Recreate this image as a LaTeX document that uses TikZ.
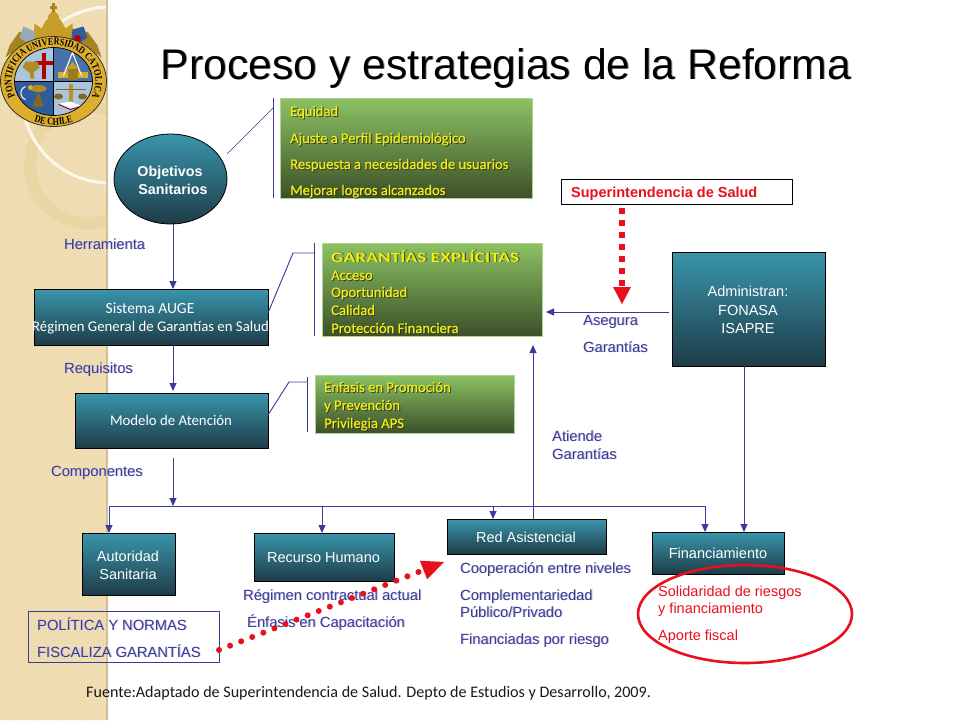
\documentclass[tikz,border=0pt]{standalone}
\usepackage{fontspec}
\setmainfont{Liberation Sans}
\newfontfamily\hum{Carlito}
\newfontfamily\humy[FakeBold=0.6]{Carlito}
\newfontfamily\humw[FakeStretch=1.33]{Carlito}
\newfontfamily\crestf[FakeStretch=.8]{Liberation Serif}
\usetikzlibrary{arrows.meta,patterns,decorations.text,shapes.geometric}
\definecolor{navy}{HTML}{3A3A98}
\definecolor{navysh}{HTML}{C4C4DC}
\definecolor{yel}{HTML}{F0F010}
\definecolor{tealtop}{HTML}{3A95AC}
\definecolor{tealbot}{HTML}{1E3C48}
\definecolor{grtop}{HTML}{8CC264}
\definecolor{grbot}{HTML}{3C5028}
\definecolor{tan}{HTML}{F1DFB6}
\definecolor{tandot}{HTML}{E6CF9C}
\definecolor{gold}{HTML}{DDAE2C}
\definecolor{rd}{HTML}{E8101C}
\definecolor{lblue}{HTML}{A9C6DE}
\definecolor{dblue}{HTML}{2F5C9C}
\newcommand\shtxt[2]{\leavevmode\rlap{\kern.9pt\raisebox{-.9pt}{\textcolor{#1}{#2}}}#2}
\newcommand\bl[1]{\shtxt{navysh}{#1}}
\newcommand\yl[1]{\shtxt{black!80}{#1}}
\newcommand\fs[1]{\fontsize{#1}{#1}\selectfont}
\tikzset{
  tbox/.style={draw=black,line width=.8pt,top color=tealtop,bottom color=tealbot,inner sep=0pt,outer sep=0pt},
  gbox/.style={draw=grtop!70!white,line width=.4pt,top color=grtop,bottom color=grbot,inner sep=0pt,outer sep=0pt},
  lab/.style={anchor=base west,inner sep=0pt,text=navy,font=\fs{14.7}},
  red lab/.style={anchor=base west,inner sep=0pt,text=rd,font=\fs{14.5}},
  ylab/.style={anchor=base west,inner sep=0pt,text=yel,font=\humy\fs{14.6}},
  wlab/.style={anchor=base,inner sep=0pt,text=white,font=\fs{14.5}},
  whum/.style={anchor=base,inner sep=0pt,text=white,font=\hum\fs{14.8}},
  arr/.style={draw=navy,line width=.9pt,-{Triangle[length=8pt,width=7pt,fill=navy]}},
  ln/.style={draw=navy,line width=.9pt},
  thin ln/.style={draw=navy,line width=.6pt},
}
\begin{document}
\begin{tikzpicture}[x=1pt,y=-1pt]
\useasboundingbox (0,0) rectangle (960,720);
\fill[white] (0,0) rectangle (960,720);
% left strip
\begin{scope}
\clip (0,0) rectangle (106,720);
\fill[tan] (0,0) rectangle (106,720);
\fill[pattern=crosshatch dots,pattern color=tandot] (0,0) rectangle (106,720);
\draw[tandot!65!tan,line width=12pt] (88,165) circle[radius=58pt];
\draw[white!75!tan,line width=3pt] (110,95) circle[radius=88pt];
\end{scope}
\fill[tandot!80!gray] (106,0) rectangle (107.5,720);
% crest
\begin{scope}[x=1pt,y=1pt,shift={(53.5pt,-81.5pt)}]
 % crown and mantling
 \fill[gold!75!black] (-48,24) -- (-44,36) -- (-34,50) -- (-24,44) -- (24,44) -- (34,50) -- (44,36) -- (48,24) -- (30,38) -- (-30,38) -- cycle;
 \fill[gold!90!black] (-20,40) -- (-19,58) -- (-12,53) -- (-7,62) -- (0,58) -- (7,62) -- (12,53) -- (19,58) -- (20,40) -- cycle;
 \fill[gold!70!black] (-19,44) rectangle (19,40);
 \fill[gold!90!black] (-7,58) -- (-5,66) -- (0,72) -- (5,66) -- (7,58) -- cycle;
 \fill[gold!75!black] (-1.5,70) rectangle (1.5,78.5);
 \fill[gold!75!black] (-3.5,73) rectangle (3.5,75.5);
 \fill[lblue!60!gray] (-34,44) -- (-30,55) -- (-19,50) -- (-19,43) -- (-24,37) -- cycle;
 \fill[dblue] (34,44) -- (30,55) -- (19,52) -- (18,43) -- (24,37) -- cycle;
 \fill[red!75!black] (24,43) circle[radius=3.5pt];
 % ring
 \filldraw[fill=gold,draw=black!80,line width=.8pt] (0,0) ellipse[x radius=53pt,y radius=45pt];
 \path[decorate,decoration={text along path,text align=center,text color=black,
   text format delimiters={|}{|},text={|\crestf\bfseries\fs{10.2}|PONTIFICIA UNIVERSIDAD CATOLICA}}]
   (218:42pt and 36.5pt) arc[start angle=218,end angle=-38,x radius=42pt,y radius=36.5pt];
 \path[decorate,decoration={text along path,text align=center,text color=black,
   text format delimiters={|}{|},text={|\crestf\bfseries\fs{10.2}|DE CHILE}}]
   (225:50pt and 43.5pt) arc[start angle=225,end angle=315,x radius=50pt,y radius=43.5pt];
 % shield
 \begin{scope}
  \clip (0,0) ellipse[x radius=39pt,y radius=34pt];
  \fill[lblue] (-40,0) rectangle (0,36);
  \fill[dblue!80!lblue] (0,0) rectangle (40,36);
  \fill[dblue] (-40,-36) rectangle (0,0);
  \fill[lblue] (0,-36) rectangle (40,0);
  % cross and cup
  \fill[red!70!black] (-12,3) rectangle (-8,29);
  \fill[red!70!black] (-19,17) rectangle (-1,21);
  \fill[gold!80!black] (-23,3) -- (-19,3) -- (-20,9) -- (-14,14) -- (-16,20) -- (-28,20) -- (-31,14) -- (-24,9) -- cycle;
  % temple
  \fill[gold] (4,4) rectangle (34,10);
  \fill[gold!90!black] (10,8) -- (19,20) -- (28,8) -- cycle;
  \draw[white,line width=1.1pt] (10,6) -- (19,29) -- (28,6);
  \fill[gold!70!black] (14,2) rectangle (24,13);
  % left lower
  \fill[gold!80!black] (-15,-7) ellipse[x radius=8pt,y radius=3.5pt];
  \fill[gold!60!black] (-15,-10) -- (-21,-25) -- (-10,-25) -- cycle;
  \draw[white!80!gray,line width=1.2pt] (-28,-5) arc[start angle=110,end angle=250,radius=7pt];
  \fill[gold] (-23,-6) circle[radius=2.5pt];
  % scales
  \fill[gold!85!black] (15,-2) rectangle (19,-22);
  \draw[gold!60!black,line width=.9pt] (2,-8) -- (32,-8);
  \fill[gold!60!black] (5,-15) ellipse[x radius=4.5pt,y radius=3pt];
  \fill[gold!60!black] (29,-15) ellipse[x radius=4.5pt,y radius=3pt];
  \fill[white] (6,-22) -- (17,-20) -- (27,-24) -- (17,-27) -- cycle;
  \draw[red!70!black,line width=.9pt] (5,-23) -- (17,-28) -- (28,-25);
 \end{scope}
 \draw[black,line width=.7pt] (0,0) ellipse[x radius=39pt,y radius=34pt];
 \draw[black,line width=.9pt] (-39,0) -- (39,0) (0,-34) -- (0,34);
\end{scope}
% title
\node[anchor=base,inner sep=0pt,font=\fs{42.7}] (title) at (506,79) {\shtxt{black!35}{Proceso y estrategias de la Reforma}};
% main nodes
\node[ellipse,tbox,minimum width=113pt,minimum height=90pt] (obj) at (170.5,179) {};
\node[wlab,font=\bfseries\fs{14.3}] (objA) at (170,176) {Objetivos};
\node[wlab,font=\bfseries\fs{14.3}] (objB) at (173,194) {Sanitarios};
\node[tbox,minimum width=234pt,minimum height=56pt] (auge) at (151,317) {};
\node[whum,font=\hum\fs{15.5}] (augeA) at (150,313) {Sistema AUGE};
\node[whum] (augeB) at (150.5,331) {Régimen General de Garantías en Salud};
\node[tbox,minimum width=193pt,minimum height=55pt] (modelo) at (171.5,420.5) {};
\node[whum] (modeloT) at (171,425) {Modelo de Atención};
\node[tbox,minimum width=93pt,minimum height=62pt] (aut) at (128.5,564) {};
\node[wlab] (autA) at (128,561) {Autoridad};
\node[wlab] (autB) at (128,579) {Sanitaria};
\node[tbox,minimum width=140pt,minimum height=48pt] (rec) at (324,557) {};
\node[wlab] (recT) at (323.5,562) {Recurso Humano};
\node[tbox,minimum width=159pt,minimum height=35pt] (redn) at (526.5,536.5) {};
\node[wlab] (redT) at (526,542) {Red Asistencial};
\node[tbox,minimum width=132pt,minimum height=42pt] (fin) at (718,553) {};
\node[wlab] (finT) at (718,558) {Financiamiento};
\node[tbox,minimum width=153pt,minimum height=114pt] (adm) at (748.5,309) {};
\node[wlab] (admA) at (748,296) {Administran:};
\node[wlab] (admB) at (748,315) {FONASA};
\node[wlab] (admC) at (748,333) {ISAPRE};
% green boxes
\node[gbox,minimum width=252pt,minimum height=100pt] (g1) at (406,148) {};
\node[gbox,minimum width=220pt,minimum height=93pt] (g2) at (432,289.5) {};
\node[gbox,minimum width=199pt,minimum height=58pt] (g3) at (414.5,404) {};
\node[ylab] (g1a) at (290,116) {\yl{Equidad}};
\node[ylab] (g1b) at (290,143) {\yl{Ajuste a Perfil Epidemiológico}};
\node[ylab] (g1c) at (290,169) {\yl{Respuesta a necesidades de usuarios}};
\node[ylab] (g1d) at (290,195) {\yl{Mejorar logros alcanzados}};
\node[ylab,font=\humw\bfseries\fs{14.6}] (g2a) at (331,262) {\yl{GARANTÍAS EXPLÍCITAS}};
\node[ylab] (g2b) at (331,280) {\yl{Acceso}};
\node[ylab] (g2c) at (331,297) {\yl{Oportunidad}};
\node[ylab] (g2d) at (331,315) {\yl{Calidad}};
\node[ylab] (g2e) at (331,333) {\yl{Protección Financiera}};
\node[ylab] (g3a) at (324,392) {\yl{Enfasis en Promoción}};
\node[ylab] (g3b) at (324,410) {\yl{y Prevención}};
\node[ylab] (g3c) at (324,428) {\yl{Privilegia APS}};
% superintendencia
\node[draw=black,line width=.7pt,fill=white,minimum width=231pt,minimum height=25pt,inner sep=0pt,outer sep=0pt] (sup) at (676.5,191.5) {};
\node[anchor=base west,inner sep=0pt,text=rd,font=\bfseries\fs{14.5}] (supT) at (571,197) {Superintendencia de Salud};
% politica
\node[draw=navy,line width=.8pt,minimum width=191pt,minimum height=51pt,inner sep=0pt,outer sep=0pt] (pol) at (123.5,636.5) {};
\node[lab] (polA) at (37,630) {\bl{POLÍTICA Y NORMAS}};
\node[lab] (polB) at (37,657) {\bl{FISCALIZA GARANTÍAS}};
% labels
\node[lab] (lh) at (64,249) {\bl{Herramienta}};
\node[lab] (lr) at (64,373) {\bl{Requisitos}};
\node[lab] (lc) at (51,476) {\bl{Componentes}};
\node[lab] (la1) at (583,325) {\bl{Asegura}};
\node[lab] (la2) at (583,352) {\bl{Garantías}};
\node[lab] (lt1) at (552,441) {\bl{Atiende}};
\node[lab] (lt2) at (552,459) {\bl{Garantías}};
\node[lab] (r1) at (243,600) {\bl{Régimen contractual actual}};
\node[lab] (r2) at (247,627) {\bl{Énfasis en Capacitación}};
\node[lab] (a1) at (460,573) {\bl{Cooperación entre niveles}};
\node[lab] (a2) at (460,600) {\bl{Complementariedad}};
\node[lab] (a3) at (460,617) {\bl{Público/Privado}};
\node[lab] (a4) at (460,644) {\bl{Financiadas por riesgo}};
\node[red lab] (f1) at (658,596) {Solidaridad de riesgos};
\node[red lab] (f2) at (658,613) {y financiamiento};
\node[red lab] (f3) at (658,640) {Aporte fiscal};
\node[anchor=base west,inner sep=0pt,font=\hum\fs{16.1},text=black!90] (src) at (86,697) {Fuente:Adaptado de Superintendencia de Salud. Depto de Estudios y Desarrollo, 2009.};
% brackets
\coordinate (b1t) at (273,98); \coordinate (b1b) at (273,198); \coordinate (b1m) at (273,108);
\draw[thin ln] (227,154) -- (b1m);
\draw[ln] (b1t) -- (b1b);
\coordinate (b2t) at (314,243); \coordinate (b2b) at (314,336); \coordinate (b2m) at (314,253); \coordinate (b2k) at (293,253);
\draw[ln] (b2t) -- (b2b);
\draw[ln] (b2m) -- (b2k) -- (auge.east |- 0,313);
\coordinate (b3t) at (307,377); \coordinate (b3b) at (307,432); \coordinate (b3m) at (307,382); \coordinate (b3k) at (289,382);
\draw[ln] (b3t) -- (b3b);
\draw[ln] (b3m) -- (b3k) -- (modelo.east |- 0,415);
% connectors
\draw[arr] (obj.south -| 173,0) -- (auge.north -| 173,0);
\coordinate (mt) at (173,391);
\draw[arr] (auge.south -| 173,0) -- (mt);
\coordinate (ms) at (173,458); \coordinate (me) at (173,506);
\draw[arr] (ms) -- (me);
\coordinate (busL) at (109,506); \coordinate (busR) at (705,506);
\coordinate (busA) at (322,506); \coordinate (busB) at (493,506);
\draw[ln] (busL) -- (busR);
\draw[arr] (busL) -- (busL |- aut.north);
\draw[arr] (busA) -- (busA |- rec.north);
\draw[arr] (busB) -- (busB |- redn.north);
\draw[arr] (busR) -- (busR |- fin.north);
\coordinate (up) at (533,345);
\draw[arr] (up |- redn.north) -- (up);
\draw[arr] (adm.south -| 744,0) -- (fin.north -| 744,0);
\coordinate (asg) at (546,312);
\draw[arr] (669,312) -- (asg);
% red connectors
\coordinate (supe) at (622,304);
\draw[draw=rd,line width=6pt,dash pattern=on 6pt off 6pt,-{Triangle[length=17pt,width=18pt,fill=rd,line width=0pt]}] (622,208) -- (supe);
\coordinate (pols) at (219,650); \coordinate (pole) at (444,562);
\draw[draw=rd,line width=6pt,line cap=round,dash pattern=on 0pt off 11.9pt,-{Triangle[length=22pt,width=20pt,fill=rd,line width=0pt]}] (pols) -- (pole);
\node[ellipse,draw=rd,line width=2.6pt,minimum width=214pt,minimum height=98pt,inner sep=0pt] (circ) at (745,614) {};
\end{tikzpicture}
\end{document}
